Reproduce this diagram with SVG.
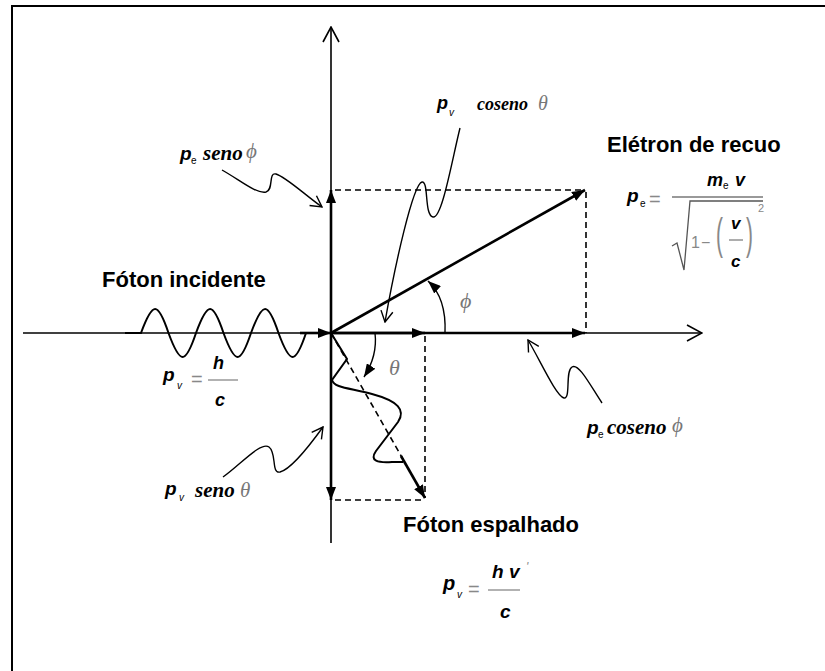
<svg xmlns="http://www.w3.org/2000/svg" width="825" height="671" viewBox="0 0 825 671">
<defs>
<style>
.ax{stroke:#000;stroke-width:1.6;fill:none}
.vec{stroke:#000;stroke-width:2.6;fill:none}
.dash{stroke:#000;stroke-width:1.6;stroke-dasharray:6,4;fill:none}
.lead{stroke:#000;stroke-width:1.4;fill:none}
.wave{stroke:#000;stroke-width:2;fill:none}
.ttl{font-family:"Liberation Sans",Arial,sans-serif;font-weight:bold;font-size:22px;fill:#000}
.p{font-family:"Liberation Sans",Arial,sans-serif;font-weight:bold;font-style:italic;fill:#000}
.sub{font-family:"Liberation Sans",Arial,sans-serif;font-size:10px;fill:#000}
.tr{font-family:"Liberation Serif","Times New Roman",serif;font-weight:bold;font-style:italic;fill:#000}
.gr{font-family:"Liberation Serif","Times New Roman",serif;font-style:italic;fill:#777}
.eq{font-family:"Liberation Sans",Arial,sans-serif;fill:#888}
</style>
<marker id="fill" viewBox="0 0 13 10" refX="13" refY="5" markerWidth="13" markerHeight="10" markerUnits="userSpaceOnUse" orient="auto"><path d="M0,0 L13,5 L0,10 Z" fill="#000"/></marker>
<marker id="open" viewBox="0 0 17 18" refX="16" refY="9" markerWidth="17" markerHeight="18" markerUnits="userSpaceOnUse" orient="auto"><path d="M1,1 L16,9 L1,17" fill="none" stroke="#000" stroke-width="1.6"/></marker>
<marker id="lopen" viewBox="0 0 13 14" refX="12" refY="7" markerWidth="13" markerHeight="14" markerUnits="userSpaceOnUse" orient="auto"><path d="M1,1 L12,7 L1,13" fill="none" stroke="#000" stroke-width="1.4"/></marker>
</defs>
<rect width="825" height="671" fill="#fff"/>
<path id="frame" d="M12,671 L12,6 L825,6" fill="none" stroke="#000" stroke-width="2"/>

<g id="connectors">
  <line class="ax" x1="23" y1="333" x2="702" y2="333" marker-end="url(#open)"/>
  <line class="ax" x1="331" y1="543" x2="331" y2="27" marker-end="url(#open)"/>
  <line class="dash" x1="335" y1="190" x2="585" y2="190"/>
  <line class="dash" x1="586" y1="192" x2="586" y2="333"/>
  <line class="dash" x1="425" y1="336" x2="425" y2="498"/>
  <line class="dash" x1="335" y1="500" x2="425" y2="500"/>
  <line class="dash" x1="331" y1="333" x2="404" y2="461"/>
  <line class="vec" x1="331" y1="333" x2="585" y2="190" marker-end="url(#fill)"/>
  <line class="vec" x1="331" y1="333" x2="585" y2="333" marker-end="url(#fill)"/>
  <line class="vec" x1="331" y1="333" x2="425" y2="333" marker-end="url(#fill)"/>
  <line class="vec" x1="331" y1="333" x2="331" y2="190" marker-end="url(#fill)"/>
  <line class="vec" x1="331" y1="333" x2="331" y2="500" marker-end="url(#fill)"/>
  <line class="vec" x1="300" y1="333" x2="331" y2="333" marker-end="url(#fill)"/>
  <line class="vec" x1="401" y1="456" x2="425" y2="498" marker-end="url(#fill)"/>
  <path class="wave" d="M125,333 L141,333 C152.7,301 157.8,301 168.5,333 C180.2,365 185.3,365 196,333 C207.7,301 212.8,301 223.5,333 C235.2,365 240.3,365 251,333 C262.7,301 267.8,301 278.5,333 C290.2,365 295.3,365 306,333"/>
  <path class="wave" d="M331,333 L347,359 L332,380 C334,388 350,388 372,394 C398,401 406,410 398,422 L376,451 C369,461 378,463 392,462 L403,462"/>
  <path class="lead" stroke-width="1.6" d="M375,333 C377,350 373,363 364,377" marker-end="url(#fill)"/>
  <path class="lead" stroke-width="1.6" d="M445,333 C446,310 440,292 428,281" marker-end="url(#fill)"/>
  <path class="lead" d="M222,170 C240,180 256,194 266,192 C274,190 268,172 276,174 C286,177 305,195 322,207" marker-end="url(#lopen)"/>
  <path class="lead" d="M460,128 C452,160 442,219 433,217 C424,215 429,181 422,182 C413,184 395,265 385,322" marker-end="url(#lopen)"/>
  <path class="lead" d="M602,403 C590,385 579,363 572,367 C565,371 571,399 564,398 C556,396 540,360 528,340" marker-end="url(#lopen)"/>
  <path class="lead" d="M223,477 C240,465 261,441 269,447 C277,453 271,474 280,472 C292,469 310,445 323,427" marker-end="url(#lopen)"/>
</g>

<g id="foton-incidente">
  <text class="ttl" x="102" y="287">Fóton incidente</text>
  <text class="p" x="163" y="381" font-size="19">p</text>
  <text class="sub" x="177" y="389" font-style="italic">v</text>
  <text class="eq" x="191" y="386" font-size="20">=</text>
  <line x1="208" y1="380" x2="238" y2="380" stroke="#888" stroke-width="1.3"/>
  <text class="p" x="213" y="369" font-size="18">h</text>
  <text class="p" x="215" y="406" font-size="18">c</text>
</g>

<g id="eletron-recuo">
  <text class="ttl" x="607" y="152">Elétron de recuo</text>
  <text class="p" x="627" y="202" font-size="19">p</text>
  <text class="sub" x="640" y="207">e</text>
  <text class="eq" x="649" y="206" font-size="20">=</text>
  <text class="p" x="707" y="186" font-size="18">m</text>
  <text class="sub" x="723" y="189">e</text>
  <text class="p" x="735" y="186" font-size="18">v</text>
  <line x1="672" y1="197" x2="763" y2="197" stroke="#777" stroke-width="1.3"/>
  <path d="M672,246 L677,243 L684,270 L690,201 L763,201" fill="none" stroke="#555" stroke-width="1.3"/>
  <text class="eq" x="691" y="248" font-size="16">1</text>
  <text class="eq" x="701" y="248" font-size="16">−</text>
  <text class="eq" font-size="26" fill="#aaa" transform="translate(716,249) scale(0.8,1.7)">(</text>
  <text class="eq" font-size="26" fill="#aaa" transform="translate(746,249) scale(0.8,1.7)">)</text>
  <text class="p" x="731" y="229" font-size="17">v</text>
  <line x1="729" y1="240" x2="743" y2="240" stroke="#777" stroke-width="1.2"/>
  <text class="p" x="731" y="267" font-size="17">c</text>
  <text class="eq" x="758" y="212" font-size="11">2</text>
</g>

<g id="foton-espalhado">
  <text class="ttl" x="403" y="532">Fóton espalhado</text>
  <text class="p" x="443" y="590" font-size="20">p</text>
  <text class="sub" x="457" y="598" font-style="italic">v</text>
  <text class="eq" x="468" y="596" font-size="20">=</text>
  <line x1="488" y1="590" x2="520" y2="590" stroke="#888" stroke-width="1.3"/>
  <text class="p" x="492" y="578" font-size="19">h v</text>
  <text class="eq" x="526" y="571" font-size="12" font-style="italic">'</text>
  <text class="p" x="500" y="618" font-size="19">c</text>
</g>

<g id="pe-seno-phi">
  <text class="p" x="180" y="160" font-size="19">p</text>
  <text class="sub" x="191" y="164">e</text>
  <text class="tr" x="203" y="160" font-size="21">seno</text>
  <text class="gr" x="246" y="158" font-size="21">ϕ</text>
</g>

<g id="pv-coseno-theta">
  <text class="p" x="437" y="109" font-size="18">p</text>
  <text class="sub" x="449" y="116" font-style="italic">v</text>
  <text class="tr" x="477" y="110" font-size="18">coseno</text>
  <text class="gr" x="538" y="110" font-size="20">θ</text>
</g>

<g id="pe-coseno-phi">
  <text class="p" x="587" y="434" font-size="19">p</text>
  <text class="sub" x="598" y="438">e</text>
  <text class="tr" x="607" y="434" font-size="21">coseno</text>
  <text class="gr" x="672" y="432" font-size="21">ϕ</text>
</g>

<g id="pv-seno-theta">
  <text class="p" x="165" y="495" font-size="19">p</text>
  <text class="sub" x="179" y="501" font-style="italic">v</text>
  <text class="tr" x="195" y="497" font-size="21">seno</text>
  <text class="gr" x="240" y="497" font-size="21">θ</text>
</g>

<g id="angles">
  <text class="gr" x="389" y="375" font-size="22">θ</text>
  <text class="gr" x="460" y="308" font-size="22">ϕ</text>
</g>
</svg>
